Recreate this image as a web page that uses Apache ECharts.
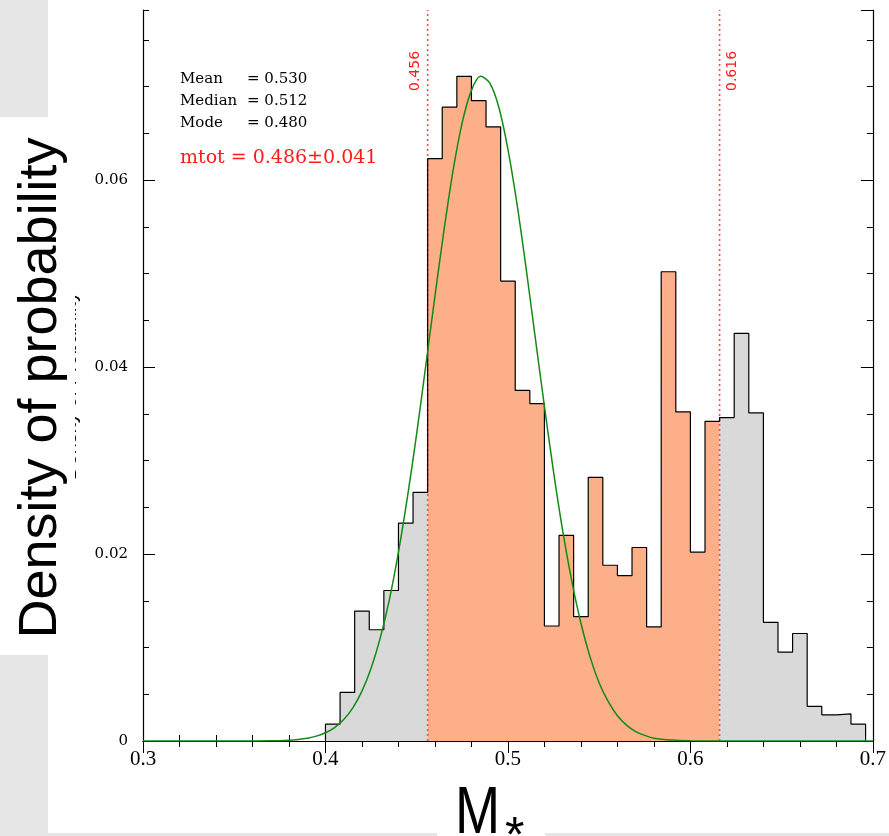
<!DOCTYPE html>
<html>
<head>
<meta charset="utf-8">
<script src="https://cdn.jsdelivr.net/npm/echarts@6/dist/echarts.min.js"></script>
<style>
  html, body { margin: 0; padding: 0; background: #fff; }
  #chart { width: 889px; height: 836px; }
</style>
</head>
<body>
<div id="chart"></div>
<script>
// histogram bins (left edges + final right edge) and densities
const binEdges = [0.400, 0.408, 0.416, 0.424, 0.432, 0.440, 0.448, 0.456, 0.464, 0.472,
  0.480, 0.488, 0.496, 0.504, 0.512, 0.520, 0.528, 0.536, 0.544, 0.552,
  0.560, 0.568, 0.576, 0.584, 0.592, 0.600, 0.608, 0.616, 0.624, 0.632,
  0.640, 0.648, 0.656, 0.664, 0.672, 0.680, 0.688, 0.696];
const density = [0.0018, 0.0052, 0.0139, 0.0119, 0.0161, 0.0233, 0.0266, 0.0623, 0.0678, 0.0711,
  0.0685, 0.0657, 0.0492, 0.0375, 0.0361, 0.0123, 0.0220, 0.0133, 0.0282, 0.0188,
  0.0177, 0.0207, 0.0122, 0.0502, 0.0352, 0.0202, 0.0342, 0.0346, 0.0436, 0.0351,
  0.0127, 0.0095, 0.0115, 0.0037, 0.0028, 0.0029, 0.0018];

// fitted curve
const fitX = [0.30, 0.34, 0.36, 0.37, 0.38, 0.385, 0.39, 0.395, 0.40, 0.405,
  0.41, 0.415, 0.42, 0.425, 0.43, 0.435, 0.44, 0.445, 0.45, 0.455,
  0.46, 0.465, 0.47, 0.475, 0.48, 0.485, 0.49, 0.495, 0.50, 0.505,
  0.51, 0.515, 0.52, 0.525, 0.53, 0.535, 0.54, 0.545, 0.55, 0.555,
  0.56, 0.565, 0.57, 0.575, 0.58, 0.59, 0.60, 0.62, 0.70];
const fitY = [0, 0, 0.00001, 0.00002, 0.00009, 0.00017, 0.0003, 0.00052, 0.00088, 0.00144,
  0.00229, 0.00355, 0.00533, 0.00778, 0.0110, 0.0151, 0.0202, 0.0262, 0.0329, 0.0402,
  0.0476, 0.0547, 0.0611, 0.0662, 0.0696, 0.0711, 0.0704, 0.0678, 0.0633, 0.0574,
  0.0505, 0.0431, 0.0358, 0.0288, 0.0225, 0.0171, 0.0126, 0.0090, 0.0062, 0.0042,
  0.0027, 0.0017, 0.0010, 0.0006, 0.0003, 0.0001, 0.00003, 0, 0];

const credBounds = [0.456, 0.616];
const statLabels = ['Mean', 'Median', 'Mode'];
const statValues = ['0.530', '0.512', '0.480'];
const mtotText = 'mtot = 0.486\u00b10.041';
const yTop = 0.0782;

const SALMON = '#fcaf88';
const GREY = '#d9d9d9';
const RED = '#ff1a1a';

function stepPoints(from, to) {
  const pts = [];
  for (let i = from; i < to; i++) {
    pts.push([binEdges[i], density[i]]);
  }
  pts.push([binEdges[to], 0]);
  return pts;
}

const lo = binEdges.indexOf(credBounds[0]);
const hi = binEdges.indexOf(credBounds[1]);

function fillSeries(from, to, color) {
  return {
    type: 'line',
    step: 'end',
    symbol: 'none',
    silent: true,
    data: stepPoints(from, to),
    lineStyle: { width: 0 },
    areaStyle: { color: color, opacity: 1 },
    z: 1,
  };
}

const xBase = {
  type: 'value',
  min: 0.3,
  max: 0.7,
  interval: 0.1,
  axisLine: { show: true, lineStyle: { color: '#000', width: 1.2 } },
  axisTick: { show: true, inside: true, length: 12, lineStyle: { color: '#000' } },
  minorTick: { show: true, splitNumber: 5, length: 6, lineStyle: { color: '#000' } },
  splitLine: { show: false },
  minorSplitLine: { show: false },
};

function yAxisDef(position, interval, tickLen, withLabel) {
  return {
    type: 'value',
    position: position,
    min: 0,
    max: yTop,
    interval: interval,
    axisLine: { show: tickLen > 8, lineStyle: { color: '#000', width: 1.2 } },
    axisTick: { show: true, inside: true, length: tickLen, lineStyle: { color: '#000' } },
    splitLine: { show: false },
    axisLabel: {
      show: withLabel,
      showMaxLabel: false,
      margin: 15,
      color: '#000',
      fontFamily: 'DejaVu Serif',
      fontSize: 15,
      formatter: (v) => (v === 0 ? '0' : v.toFixed(2)),
    },
  };
}

const chart = echarts.init(document.getElementById('chart'));

const option = {
  animation: false,
  backgroundColor: '#fff',
  grid: { left: 143, right: 16, top: 10, bottom: 95 },
  xAxis: [
    Object.assign({}, xBase, {
      position: 'bottom',
      axisLabel: {
        margin: 8,
        color: '#000',
        fontFamily: 'Liberation Serif',
        fontSize: 21,
        formatter: (v) => String(+v.toFixed(2)),
      },
    }),
    Object.assign({}, xBase, { position: 'top', axisLabel: { show: false } }),
  ],
  yAxis: [
    yAxisDef('left', 0.02, 12, true),
    yAxisDef('left', 0.005, 6, false),
    yAxisDef('right', 0.02, 12, false),
    yAxisDef('right', 0.005, 6, false),
  ],
  series: [
    fillSeries(0, lo, GREY),
    fillSeries(lo, hi, SALMON),
    fillSeries(hi, density.length, GREY),
  ],
};

// dotted bounds of the interval
credBounds.forEach((b) => {
  option.series.push({
    type: 'line',
    symbol: 'none',
    silent: true,
    data: [[b, 0], [b, yTop]],
    lineStyle: { color: '#ff4a4a', type: [2, 3], width: 1.6 },
    z: 3,
  });
});

option.series.push({
  type: 'line',
  step: 'end',
  symbol: 'none',
  silent: true,
  data: [[binEdges[0], 0]].concat(stepPoints(0, density.length)),
  lineStyle: { color: '#000', width: 1.2 },
  z: 4,
});
option.series.push({
  type: 'line',
  smooth: 0.3,
  symbol: 'none',
  silent: true,
  data: fitX.map((x, i) => [x, fitY[i]]),
  lineStyle: { color: '#138a13', width: 1.5 },
  z: 5,
});

chart.setOption(option);

// texts and page furniture
const graphics = [
  { type: 'rect', shape: { x: 0, y: 0, width: 48, height: 117 }, style: { fill: '#e6e6e6' }, z: 10 },
  { type: 'rect', shape: { x: 0, y: 655, width: 48, height: 181 }, style: { fill: '#e6e6e6' }, z: 10 },
  { type: 'rect', shape: { x: 48, y: 833, width: 841, height: 3 }, style: { fill: '#e6e6e6' }, z: 10 },
  {
    type: 'text', x: 70, y: 386, rotation: Math.PI / 2, z: 10,
    style: { text: 'Density of Probability', font: '20px "Liberation Sans"', fill: '#000', align: 'center', verticalAlign: 'middle' },
  },
  { type: 'rect', shape: { x: 0, y: 117, width: 75, height: 538 }, style: { fill: '#fff' }, z: 11 },
  {
    type: 'text', x: 41, y: 388, rotation: Math.PI / 2, z: 12,
    style: { text: 'Density of probability', font: '54px "Liberation Sans"', fill: '#000', align: 'center', verticalAlign: 'middle' },
  },
  { type: 'rect', shape: { x: 437, y: 772, width: 108, height: 64 }, style: { fill: '#fff' }, z: 11 },
  {
    type: 'text', x: 455, y: 815, scaleX: 0.82, z: 12,
    style: { text: 'M', font: '66px "Liberation Sans"', fill: '#000', align: 'left', verticalAlign: 'middle' },
  },
  {
    type: 'text', x: 505, y: 838, z: 12,
    style: { text: '*', font: '50px "Liberation Sans"', fill: '#000', align: 'left', verticalAlign: 'middle' },
  },
];

const statY = [79, 101, 123];
statLabels.forEach((lab, i) => {
  graphics.push({
    type: 'text', x: 180, y: statY[i], z: 12,
    style: { text: lab, font: '15px "DejaVu Serif"', fill: '#000', align: 'left', verticalAlign: 'middle' },
  });
  graphics.push({
    type: 'text', x: 247, y: statY[i], z: 12,
    style: { text: '= ' + statValues[i], font: '15px "DejaVu Serif"', fill: '#000', align: 'left', verticalAlign: 'middle' },
  });
});
graphics.push({
  type: 'text', x: 180, y: 158, z: 12,
  style: { text: mtotText, font: '19px "DejaVu Serif"', fill: RED, align: 'left', verticalAlign: 'middle' },
});

credBounds.forEach((b, i) => {
  const px = chart.convertToPixel({ xAxisIndex: 0 }, b);
  graphics.push({
    type: 'text', x: px + (i === 0 ? -12 : 13), y: 91, rotation: Math.PI / 2, z: 12,
    style: { text: b.toFixed(3), font: '14px "DejaVu Sans"', fill: RED, align: 'left', verticalAlign: 'middle' },
  });
});

chart.setOption({ graphic: graphics });
</script>
</body>
</html>
